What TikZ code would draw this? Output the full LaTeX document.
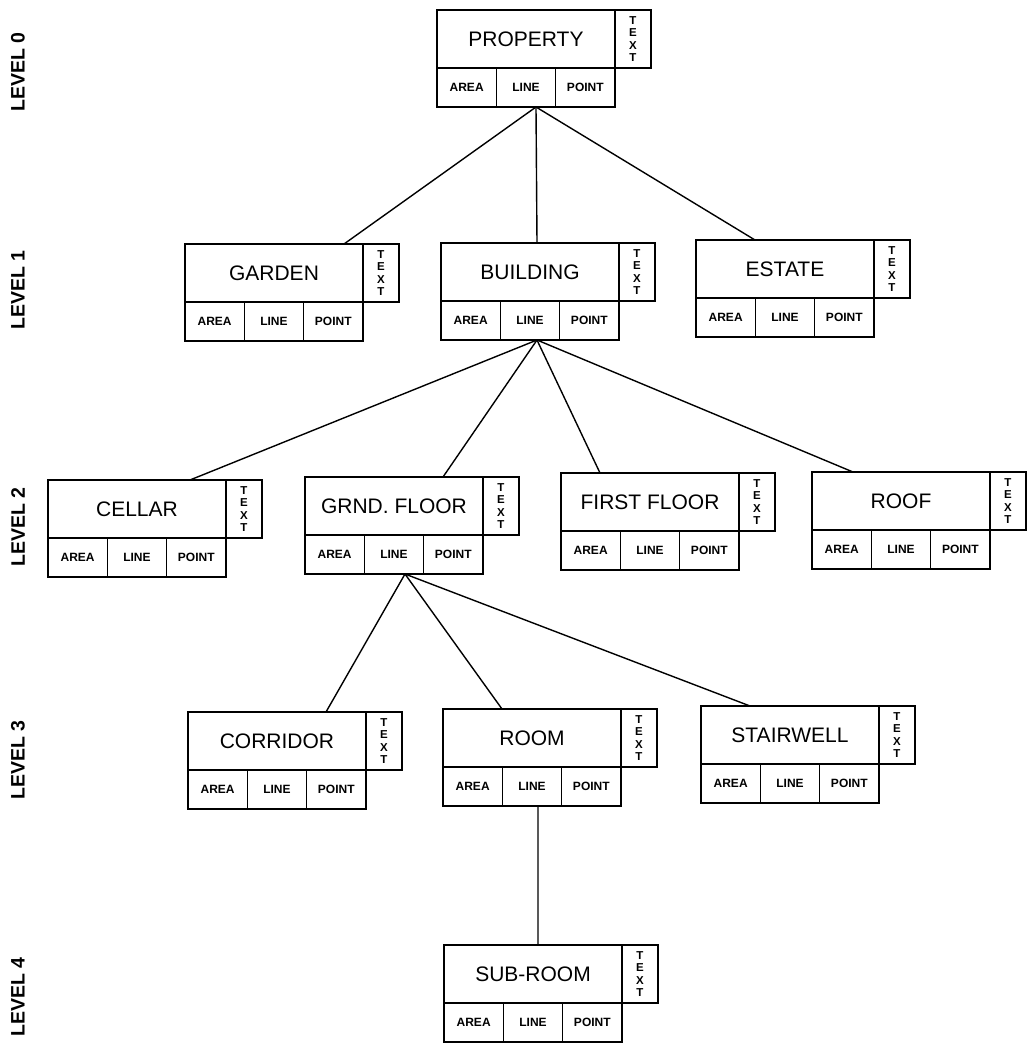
\documentclass[tikz,border=0pt]{standalone}
\usepackage{fontspec}
\setmainfont{Liberation Sans}
\usepackage{tikz}
\usetikzlibrary{positioning}

\begin{document}
\begin{tikzpicture}[
  x=1pt, y=-1pt,
  mainbox/.style={draw, line width=1.5pt, outer sep=0pt, inner sep=0pt, anchor=north west,
    minimum width=178pt, minimum height=58pt, font=\fontsize{21}{25}\selectfont},
  textcol/.style={draw, line width=1.5pt, outer sep=0pt, inner sep=0pt, anchor=north west,
    minimum width=36pt, minimum height=58pt, align=center, font=\fontsize{11.5}{12.5}\selectfont\bfseries},
  cell/.style={draw, line width=1.5pt, outer sep=0pt, inner sep=0pt,
    minimum width=59.33pt, minimum height=39pt, font=\fontsize{12}{13}\selectfont\bfseries},
  levellabel/.style={rotate=90, font=\fontsize{19.5}{21}\selectfont\bfseries},
  link/.style={line width=1.4pt}
]
\fill[white] (0,0) rectangle (1026,1050);

% level captions
\node[levellabel] (level0) at (18,72) {LEVEL 0};
\node[levellabel] (level1) at (18,290) {LEVEL 1};
\node[levellabel] (level2) at (18,527) {LEVEL 2};
\node[levellabel] (level3) at (18,760) {LEVEL 3};
\node[levellabel] (level4) at (18,997) {LEVEL 4};

% entity boxes
\foreach \n/\x/\y/\lab in {property/437/10/PROPERTY, garden/185/244/GARDEN,
    building/441/243/BUILDING, estate/696/240/ESTATE, cellar/48/480/CELLAR,
    grnd/305/477/GRND. FLOOR, first/561/473/FIRST FLOOR, roof/812/472/ROOF,
    corridor/188/712/CORRIDOR, room/443/709/ROOM, stair/701/706/STAIRWELL,
    subroom/444/945/SUB-ROOM}{
  \node[mainbox] (\n) at (\x,\y) {\lab};
  \node[textcol] (\n-text) at (\n.north east) {T\\E\\X\\T};
  \node[cell, anchor=north west] (\n-area) at (\n.south west) {AREA};
  \node[cell, right=0pt of \n-area] (\n-line) {LINE};
  \node[cell, right=0pt of \n-line] (\n-point) {POINT};
}

% hierarchy links
\draw[link] ([xshift=10pt]property-line.south) -- ([xshift=70pt]garden.north);
\draw[link] ([xshift=10pt]property-line.south) -- ([xshift=7pt]building.north);
\draw[link] ([xshift=10pt]property-line.south) -- ([xshift=-30pt]estate.north);
\draw[link] ([xshift=7pt]building-line.south) -- ([xshift=53pt]cellar.north);
\draw[link] ([xshift=7pt]building-line.south) -- ([xshift=49pt]grnd.north);
\draw[link] ([xshift=7pt]building-line.south) -- ([xshift=-50pt]first.north);
\draw[link] ([xshift=7pt]building-line.south) -- ([xshift=-48pt]roof.north);
\draw[link] ([xshift=11pt]grnd-line.south) -- ([xshift=49pt]corridor.north);
\draw[link] ([xshift=11pt]grnd-line.south) -- ([xshift=-30pt]room.north);
\draw[link] ([xshift=11pt]grnd-line.south) -- ([xshift=-40pt]stair.north);
\draw[link] ([xshift=6pt]room-line.south) -- ([xshift=5pt]subroom.north);
\end{tikzpicture}
\end{document}
